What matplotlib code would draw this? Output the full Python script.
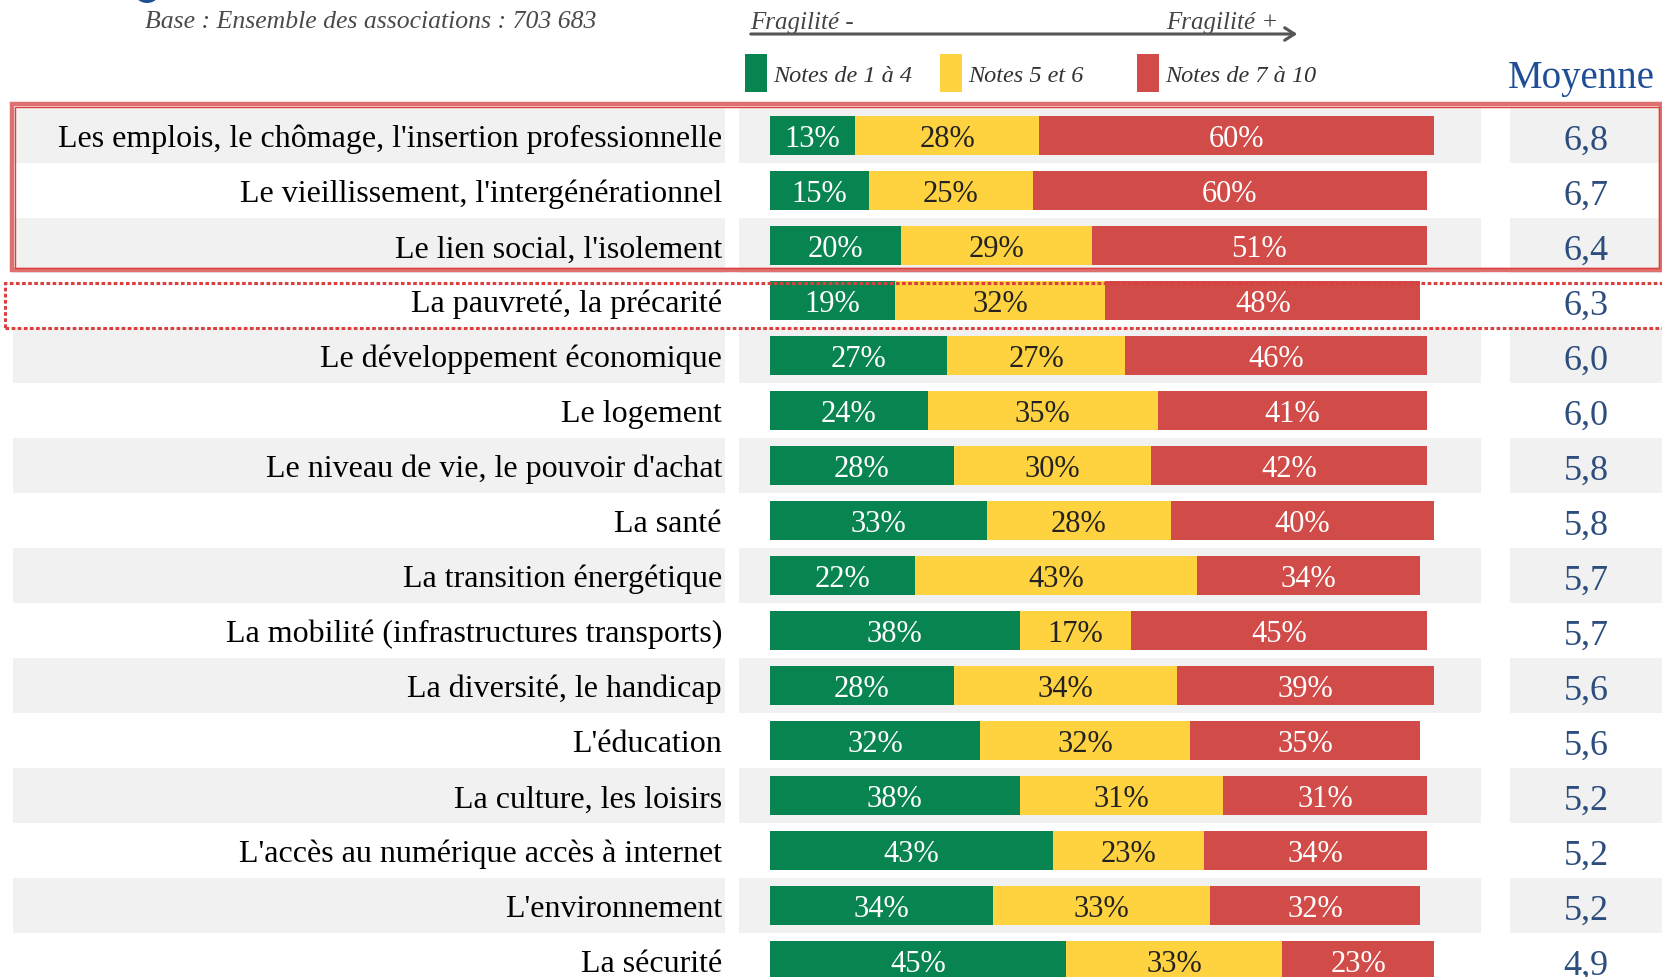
import matplotlib.pyplot as plt
from matplotlib.patches import Rectangle, Ellipse
import numpy as np

plt.rcParams["font.family"] = ["Liberation Serif", "DejaVu Serif"]

# --- data ---
themes = [
    "Les emplois, le chômage, l'insertion professionnelle",
    "Le vieillissement, l'intergénérationnel",
    "Le lien social, l'isolement",
    "La pauvreté, la précarité",
    "Le développement économique",
    "Le logement",
    "Le niveau de vie, le pouvoir d'achat",
    "La santé",
    "La transition énergétique",
    "La mobilité (infrastructures transports)",
    "La diversité, le handicap",
    "L'éducation",
    "La culture, les loisirs",
    "L'accès au numérique accès à internet",
    "L'environnement",
    "La sécurité",
]
notes_1_4 = [13, 15, 20, 19, 27, 24, 28, 33, 22, 38, 28, 32, 38, 43, 34, 45]
notes_5_6 = [28, 25, 29, 32, 27, 35, 30, 28, 43, 17, 34, 32, 31, 23, 33, 33]
notes_7_10 = [60, 60, 51, 48, 46, 41, 42, 40, 34, 45, 39, 35, 31, 34, 32, 23]
moyennes = ["6,8", "6,7", "6,4", "6,3", "6,0", "6,0", "5,8", "5,8",
            "5,7", "5,7", "5,6", "5,6", "5,2", "5,2", "5,2", "4,9"]
legend_labels = ["Notes de 1 à 4", "Notes 5 et 6", "Notes de 7 à 10"]
base_text = "Base : Ensemble des associations : 703 683"

GREEN = "#088451"
YELLOW = "#FFD240"
RED = "#D14B48"
BAND = "#F1F1F1"
MEAN_COL = "#2C4D7E"

# layout: 1 % = 6.57 px, bars start at x=770 px; row i centred at 136.5 + 55 i px
W, H = 1662, 978
PCT = 6.57
X0 = 770
ROW = 55.0
Y0 = 136.5


def px(x):
    return (x - X0) / PCT


def py(y):
    return (y - Y0) / ROW


fig = plt.figure(figsize=(W / 100, H / 100), dpi=100)
ax = fig.add_axes([0, 0, 1, 1])
ax.set_xlim(px(0), px(W))
ax.set_ylim(py(H), py(0))
ax.axis("off")

rows = np.arange(len(themes))
n1 = np.array(notes_1_4)
n2 = np.array(notes_5_6)
n3 = np.array(notes_7_10)

# alternating background bands
for i in rows:
    if i % 2 == 0:
        for a, b in [(12.7, 725), (739, 1481), (1510, W)]:
            ax.barh(i, px(b) - px(a), left=px(a), height=1.0,
                    color=BAND, zorder=0)

# stacked bars
bh = 39 / ROW
ax.barh(rows, n1, left=0, height=bh, color=GREEN, zorder=2)
ax.barh(rows, n2, left=n1, height=bh, color=YELLOW, zorder=2)
ax.barh(rows, n3, left=n1 + n2, height=bh, color=RED, zorder=2)

base_off = (147.5 - Y0) / ROW
for i in rows:
    ax.text(n1[i] / 2, i + base_off, f"{n1[i]}%", ha="center", va="baseline",
            color="white", fontsize=22, zorder=3)
    ax.text(n1[i] + n2[i] / 2, i + base_off, f"{n2[i]}%", ha="center",
            va="baseline", color="#222222", fontsize=22, zorder=3)
    ax.text(n1[i] + n2[i] + n3[i] / 2, i + base_off, f"{n3[i]}%",
            ha="center", va="baseline", color="white", fontsize=22, zorder=3)
    ax.text(px(722), i + base_off, themes[i], ha="right", va="baseline",
            color="black", fontsize=23, zorder=3)
    ax.text(px(1586), i + (150 - Y0) / ROW, moyennes[i], ha="center",
            va="baseline", color=MEAN_COL, fontsize=26, zorder=3)

# header
ax.text(px(1508), py(88), "Moyenne", ha="left", va="baseline",
        color="#1F4E96", fontsize=28)
ax.text(px(145), py(28), base_text, ha="left", va="baseline",
        color="#4A4A4A", fontsize=18.5, style="italic")
ax.text(px(750), py(29), "Fragilité -", ha="left", va="baseline",
        color="#444444", fontsize=18, style="italic")
ax.text(px(1166), py(29), "Fragilité +", ha="left", va="baseline",
        color="#444444", fontsize=18, style="italic")
ax.annotate("", xy=(px(1300), py(35)), xytext=(px(748), py(35)),
            arrowprops=dict(arrowstyle="->,head_length=0.7,head_width=0.45",
                            color="#555555", lw=2.2))

# legend
for lab, col, xl in zip(legend_labels, [GREEN, YELLOW, RED], [745, 940, 1137]):
    ax.add_patch(Rectangle((px(xl), py(93)), px(xl + 22) - px(xl),
                           py(55) - py(93), color=col, lw=0))
    ax.text(px(xl + 28), py(82), lab, ha="left", va="baseline",
            color="#333333", fontsize=17.5, style="italic")

# partial logo at top edge
ax.add_patch(Ellipse((px(147), py(-12)), 30 / PCT, 32 / ROW,
                     color="#1F4E96", lw=0))

# highlight boxes
ax.add_patch(Rectangle((px(12), py(271)), px(1661) - px(12), py(105) - py(271),
                       fill=False, ec="#E07070", lw=3.2, zorder=4))
ax.add_patch(Rectangle((px(14.5), py(268.5)), px(1659) - px(14.5),
                       py(107.5) - py(268.5),
                       fill=False, ec="#D9403E", lw=1.0, zorder=4))
ax.add_patch(Rectangle((px(5), py(329)), px(1675) - px(5), py(284) - py(329),
                       fill=False, ec="#D9403E", lw=2.2, ls=(0, (1.2, 0.8)),
                       zorder=4))

fig.savefig("out.png", dpi=100)
